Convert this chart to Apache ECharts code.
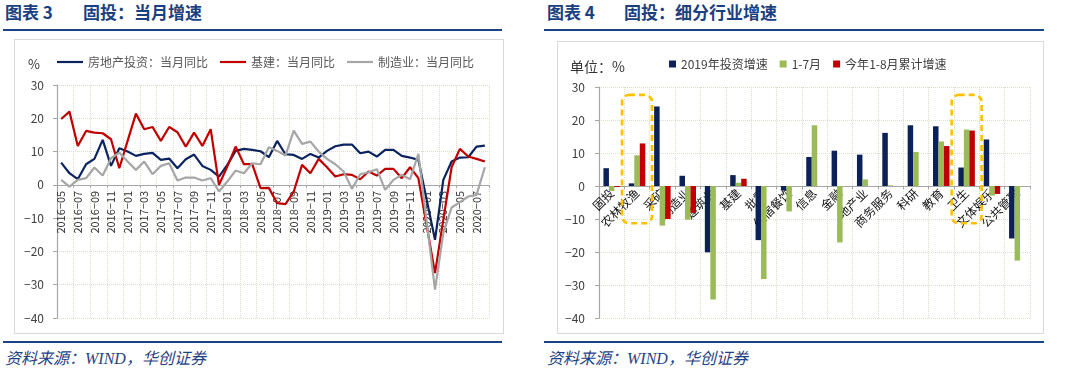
<!DOCTYPE html>
<html><head><meta charset="utf-8">
<script src="https://cdn.jsdelivr.net/npm/echarts@6/dist/echarts.min.js"></script>
<style>
html,body{margin:0;padding:0;background:#fff;width:1074px;height:370px;overflow:hidden;}
.t{position:absolute;font-family:"Noto Sans CJK SC";font-weight:bold;font-size:17px;color:#1B3F7F;line-height:24px;white-space:nowrap;}
.rule{position:absolute;height:2px;background:#1C4485;}
.src{position:absolute;font-family:"Liberation Serif","Noto Sans CJK SC";font-style:italic;font-size:16px;color:#1F4282;line-height:20px;white-space:nowrap;}
.frame{position:absolute;border:1.5px solid #d9d9d9;box-sizing:border-box;}
.chart{position:absolute;}
</style></head><body>
<div class="t" style="left:5px;top:0px;">图表 3</div>
<div class="t" style="left:83px;top:0px;">固投：当月增速</div>
<div class="t" style="left:547px;top:0px;">图表 4</div>
<div class="t" style="left:624px;top:0px;">固投：细分行业增速</div>
<div class="rule" style="left:3px;top:29px;width:499px;"></div>
<div class="rule" style="left:544px;top:29px;width:500px;"></div>
<div class="frame" style="left:14px;top:39px;width:490px;height:295px;"></div>
<div class="frame" style="left:557px;top:41px;width:487px;height:293px;"></div>
<div id="c1" class="chart" style="left:14px;top:39px;width:490px;height:295px;"></div>
<div id="c2" class="chart" style="left:557px;top:41px;width:487px;height:293px;"></div>
<div class="rule" style="left:3px;top:341px;width:499px;"></div>
<div class="rule" style="left:544px;top:341px;width:500px;"></div>
<div class="src" style="left:5px;top:349px;">资料来源：WIND，华创证券</div>
<div class="src" style="left:547px;top:349px;">资料来源：WIND，华创证券</div>
<script>
// ---- Chart 3 data ----
const months = ['2016-05','2016-06','2016-07','2016-08','2016-09','2016-10','2016-11','2016-12',
 '2017-01','2017-02','2017-03','2017-04','2017-05','2017-06','2017-07','2017-08','2017-09','2017-10','2017-11','2017-12',
 '2018-01','2018-02','2018-03','2018-04','2018-05','2018-06','2018-07','2018-08','2018-09','2018-10','2018-11','2018-12',
 '2019-01','2019-02','2019-03','2019-04','2019-05','2019-06','2019-07','2019-08','2019-09','2019-10','2019-11','2019-12',
 '2020-01','2020-02','2020-03','2020-04','2020-05','2020-06','2020-07','2020-08'];
const realEstate = [6.7,3.5,1.7,6.2,7.8,13.5,5.7,11.0,10.0,8.7,9.3,9.6,7.5,7.9,5.0,7.7,9.1,5.7,4.5,2.5,
 6.0,10.2,10.8,10.5,10.1,8.3,13.2,9.2,9.0,7.8,9.3,8.2,
 10.2,11.6,12.1,12.1,9.5,10.0,8.5,10.5,10.5,8.7,8.2,7.5,
 -4.5,-16.5,1.5,7.0,8.2,8.3,11.5,11.8];
const infra = [19.8,22.0,11.7,16.2,15.7,15.5,13.7,5.0,13.2,21.4,16.7,17.4,13.2,17.4,15.8,11.5,15.7,11.7,16.7,0.0,
 5.5,11.5,6.2,6.2,-1.0,-0.9,-5.5,-5.8,-2.0,6.0,3.5,7.8,
 5.3,2.5,3.2,3.0,1.7,4.0,2.8,4.8,4.8,2.0,5.3,2.0,
 -12.2,-26.5,-10.5,5.3,10.8,8.5,7.8,7.0];
const manufacturing = [1.5,-0.5,1.5,2.0,5.2,2.8,8.0,9.7,7.0,4.5,7.0,3.2,5.7,6.5,1.3,2.2,2.2,1.3,2.0,-2.0,
 1.0,4.3,3.5,6.5,6.2,11.3,10.2,8.8,16.3,12.3,13.0,10.0,
 7.8,6.2,4.0,-1.2,3.2,3.8,4.7,-1.5,1.5,3.0,1.7,9.3,
 -11.1,-31.5,-14.5,-6.8,-5.2,-3.5,-3.0,5.3];
const lineNames = ['房地产投资：当月同比','基建：当月同比','制造业：当月同比'];

// ---- Chart 4 data ----
const industries = ['固投','农林牧渔','采矿','制造业','建筑业','基建','批零','住宿餐饮','信息','金融','地产业','商务服务','科研','教育','卫生','文体娱乐','公共管理'];
const y2019 = [5.4,0.8,24.1,3.1,-20.1,3.3,-16.4,-1.4,8.8,10.7,9.5,16.1,18.4,18.1,5.6,14.1,-15.9];
const janJul = [-1.5,9.3,-12.0,-10.2,-34.4,1.0,-28.2,-7.7,18.4,-17.1,2.0,0.2,10.3,13.5,17.1,-2.9,-22.6];
const janAug = [-0.3,12.9,-10.0,-8.1,null,2.2,null,null,null,null,null,null,null,12.1,16.8,-2.4,null];
const barNames = ['2019年投资增速','1-7月','今年1-8月累计增速'];
const highlighted = ['农林牧渔','卫生'];

const FONT = '"Noto Sans CJK SC", sans-serif';
const minusFmt = v => String(v).replace('-', '\u2212');
const gridLine = {show:true, lineStyle:{color:'#dcdccb', type:'dotted', width:1}};

// move a chart's x axis (line, ticks, labels) to the y = 0 level
function axisToZero(chart) {
  const yZero = chart.convertToPixel({yAxisIndex:0}, 0);
  const yBottom = chart.convertToPixel({yAxisIndex:0}, -40);
  chart.setOption({xAxis:{offset:-(yBottom - yZero)}});
}

const c1 = echarts.init(document.getElementById('c1'));
c1.setOption({
  animation:false,
  textStyle:{fontFamily:FONT},
  grid:{left:43, right:15, top:46, bottom:16, outerBoundsMode:'none', containLabel:false},
  legend:{left:38, top:12, icon:'rect', itemWidth:26, itemHeight:2.2, itemGap:12,
    textStyle:{fontSize:12, color:'#595959', fontFamily:FONT}, data:lineNames},
  graphic:[{type:'text', left:14, top:19, style:{text:'%', fontSize:13, fill:'#333', fontFamily:FONT}}],
  xAxis:{type:'category', data:months, boundaryGap:true, position:'bottom',
    axisLine:{onZero:false, lineStyle:{color:'#a6a6a6', width:1.2}},
    axisTick:{show:true, interval:1, length:3, lineStyle:{color:'#a6a6a6'}},
    axisLabel:{interval:1, rotate:90, fontSize:11, margin:6, color:'#333', fontFamily:FONT,
      formatter: v => v.replace('-', '\u2212')},
    splitLine:Object.assign({interval:1}, gridLine)},
  yAxis:{type:'value', min:-40, max:30, interval:10,
    axisLine:{show:true, lineStyle:{color:'#a6a6a6', width:1.2}},
    axisTick:{show:true, length:4, lineStyle:{color:'#a6a6a6'}},
    axisLabel:{fontSize:12, margin:13, color:'#404040', fontFamily:FONT, formatter:minusFmt},
    splitLine:gridLine},
  series:[
    {name:lineNames[0], type:'line', data:realEstate, symbol:'none', color:'#0B2460', lineStyle:{width:2.2}},
    {name:lineNames[1], type:'line', data:infra, symbol:'none', color:'#C00000', lineStyle:{width:2.2}},
    {name:lineNames[2], type:'line', data:manufacturing, symbol:'none', color:'#A6A6A6', lineStyle:{width:2.2}}
  ]
});
axisToZero(c1);

const c2 = echarts.init(document.getElementById('c2'));
const barCommon = {type:'bar', barWidth:5.5, barGap:'0%'};
c2.setOption({
  animation:false,
  textStyle:{fontFamily:FONT},
  grid:{left:42, right:14, top:46, bottom:16, outerBoundsMode:'none', containLabel:false},
  legend:{left:107, top:12, icon:'rect', itemWidth:7, itemHeight:7, itemGap:12,
    textStyle:{fontSize:12, color:'#404040', fontFamily:FONT}, data:barNames},
  xAxis:{type:'category', data:industries, boundaryGap:true, position:'bottom',
    axisLine:{onZero:false, lineStyle:{color:'#a6a6a6', width:1.2}},
    axisTick:{show:true, length:3, lineStyle:{color:'#a6a6a6'}},
    axisLabel:{interval:0, rotate:45, fontSize:12, margin:5, color:'#111', fontFamily:FONT},
    splitLine:gridLine},
  yAxis:{type:'value', min:-40, max:30, interval:10,
    axisLine:{show:true, lineStyle:{color:'#a6a6a6', width:1.2}},
    axisTick:{show:true, length:4, lineStyle:{color:'#a6a6a6'}},
    axisLabel:{fontSize:12, margin:14, color:'#404040', fontFamily:FONT, formatter:minusFmt},
    splitLine:gridLine},
  series:[
    Object.assign({name:barNames[0], data:y2019, color:'#0C2158'}, barCommon),
    Object.assign({name:barNames[1], data:janJul, color:'#9BBB59'}, barCommon),
    Object.assign({name:barNames[2], data:janAug, color:'#C00000'}, barCommon)
  ]
});
axisToZero(c2);

// dashed highlight boxes around selected categories, placed from the axes
const boxes = [{type:'text', left:13, top:19, style:{text:'单位：%', fontSize:14, fill:'#333', fontFamily:FONT}}];
highlighted.forEach(cat => {
  const top = c2.convertToPixel({xAxisIndex:0, yAxisIndex:0}, [cat, 27.6]);
  const bot = c2.convertToPixel({xAxisIndex:0, yAxisIndex:0}, [cat, -11.3]);
  const half = 15;
  boxes.push({type:'rect', z:100,
    shape:{x:top[0]-half, y:top[1], width:half*2, height:bot[1]-top[1], r:7},
    style:{fill:'none', stroke:'#FFC000', lineWidth:2.6, lineDash:[6,4]}});
});
c2.setOption({graphic:boxes});
</script>
</body></html>
